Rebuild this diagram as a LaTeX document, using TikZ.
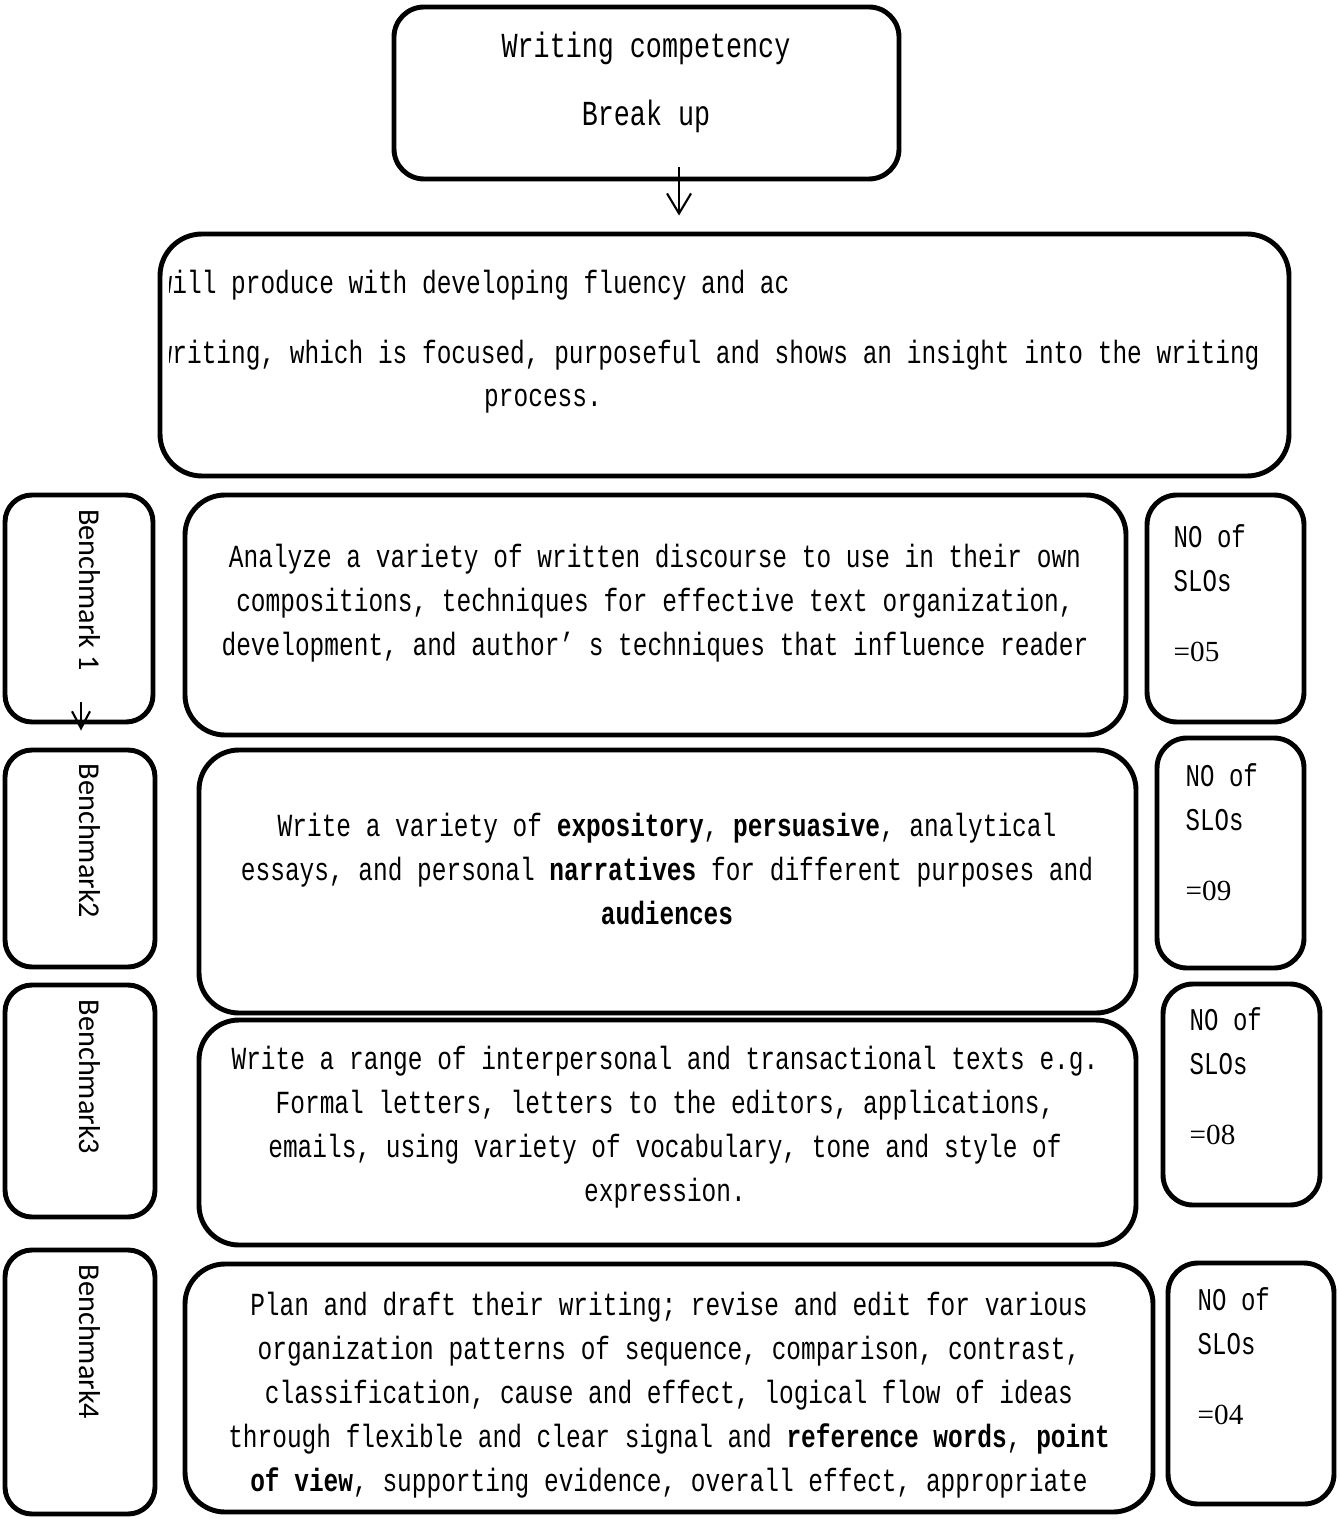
\documentclass[tikz,border=0pt]{standalone}
\usepackage{fontspec}
\usetikzlibrary{arrows.meta,fit}
\setmainfont{Liberation Serif}
\newfontfamily\monofnt[FakeStretch=0.76]{Liberation Mono}
\newfontfamily\sansfnt{Carlito}

\begin{document}
\begin{tikzpicture}
[x=0.01cm, y=-0.01cm,
 box/.style={draw, line width=1.4pt, inner sep=0pt, rounded corners=#1},
 box/.default=0.3cm,
 body/.style={font=\monofnt\fontsize{9.16}{12.5}\selectfont, align=center, inner sep=0pt},
 head/.style={font=\monofnt\fontsize{10}{19.3}\selectfont, align=center, inner sep=0pt},
 slo/.style={font=\monofnt\fontsize{9}{12.5}\selectfont, align=left, anchor=west, inner sep=0pt},
 bmk/.style={font=\sansfnt\fontsize{8.6}{10}\selectfont, rotate=-90, inner sep=0pt},
 arr/.style={line width=0.6pt},
]
\useasboundingbox (0,0) rectangle (1339,1519);

% competency and goal
\node[box=0.3cm, fit={(394,7) (899,179)}] (top) {};
\node[head] (toptext) at (646,82) {Writing competency\\Break up};
\node[box=0.42cm, fit={(160,234) (1289,476)}] (goal) {};
\begin{scope}
\clip (169,240) rectangle (1285,470);
\node[body, anchor=west] (goal1) at (157,285) {will produce with developing fluency and ac};
\node[body, anchor=west] (goal2) at (157,355) {writing, which is focused, purposeful and shows an insight into the writing};
\end{scope}
\node[body] (goal3) at (543,401) {process.};
\draw[arr, -{Straight Barb[length=2mm,width=2.4mm]}] ([xshift=0.325cm,yshift=0.14cm]top.south) -- ([xshift=0.325cm,yshift=0.16cm]top.south |- goal.north);

% benchmarks
\foreach \i/\xa/\ya/\xb/\yb/\ty/\name in {1/5/495/153/722/590/Benchmark 1,
  2/5/750/155/967/841/Benchmark2, 3/5/985/155/1217/1077/Benchmark3,
  4/5/1250/155/1514/1342/Benchmark4}
{
\node[box=0.27cm, fit={(\xa,\ya) (\xb,\yb)}] (b\i) {};
\node[bmk] (b\i text) at (90,\ty) {\name};
}
\draw[arr, -{Straight Barb[length=1.7mm,width=1.8mm]}] ([xshift=0.02cm,yshift=0.22cm]b1.south) -- ([xshift=0.02cm,yshift=0.17cm]b1.south |- b2.north);

% number of SLOs
\foreach \i/\xa/\ya/\xb/\yb/\tx/\ty/\num in {1/1147/495/1304/722/1173/593/05,
  2/1157/738/1304/968/1185/832/09, 3/1163/984/1320/1205/1189/1076/08,
  4/1168/1263/1334/1504/1197/1356/04}
{
\node[box=0.3cm, fit={(\xa,\ya) (\xb,\yb)}] (n\i) {};
\node[slo] (n\i text) at (\tx,\ty) {NO of\\SLOs\\[7.5pt]{\rmfamily\fontsize{8.3}{10}\selectfont =\num}};
}

% benchmark statements
\node[box=0.4cm, fit={(185,495) (1126,735)}] (t1) {};
\node[body] (t1text) at (655,603) {Analyze a variety of written discourse to use in their own\\
compositions, techniques for effective text organization,\\
development, and author’ s techniques that influence reader};
\node[box=0.4cm, fit={(199,750) (1136,1013)}] (t2) {};
\node[body] (t2text) at (667,869) {Write a variety of \textbf{expository}, \textbf{persuasive}, analytical\\
essays, and personal \textbf{narratives} for different purposes and\\
\textbf{audiences}};
\node[box=0.4cm, fit={(199,1020) (1136,1245)}] (t3) {};
\node[body] (t3text) at (665,1127) {Write a range of interpersonal and transactional texts e.g.\\
Formal letters, letters to the editors, applications,\\
emails, using variety of vocabulary, tone and style of\\
expression.};
\node[box=0.4cm, fit={(185,1264) (1153,1512)}] (t4) {};
\node[body] (t4text) at (669,1395) {Plan and draft their writing; revise and edit for various\\
organization patterns of sequence, comparison, contrast,\\
classification, cause and effect, logical flow of ideas\\
through flexible and clear signal and \textbf{reference words}, \textbf{point}\\
\textbf{of view}, supporting evidence, overall effect, appropriate};
\end{tikzpicture}
\end{document}
